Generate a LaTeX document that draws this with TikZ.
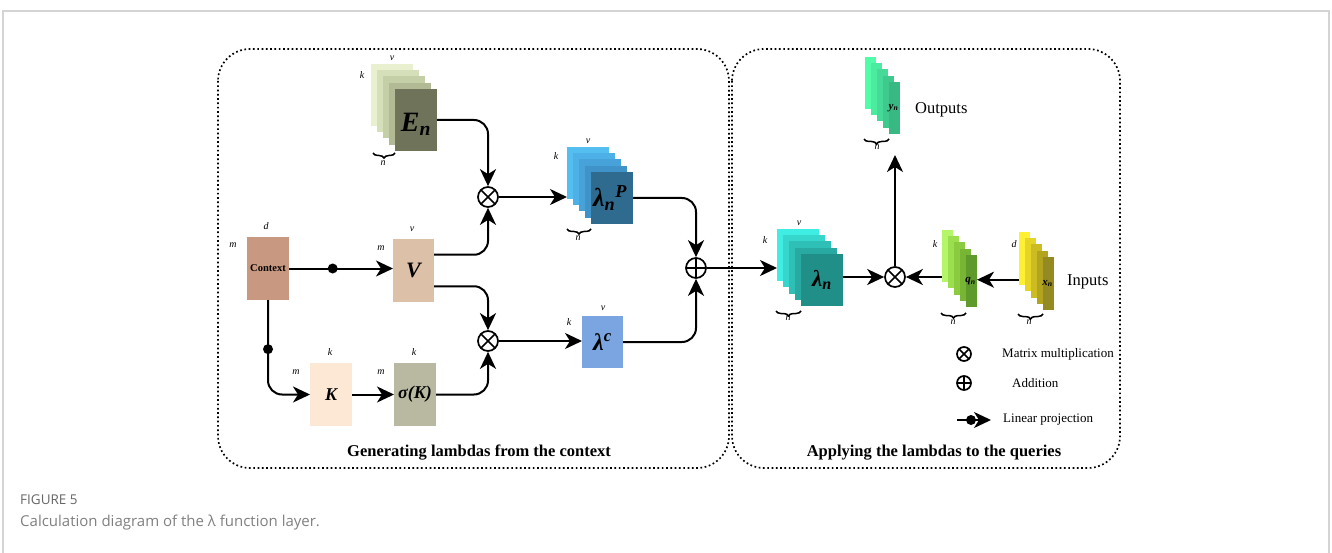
\documentclass[tikz,border=0pt]{standalone}
\usepackage{fontspec}
\setmainfont{Liberation Serif}
\newfontfamily\capfont{Open Sans}
\usetikzlibrary{arrows.meta,decorations.pathreplacing,calc}

% sheet colours, back to front
\definecolor{en0}{HTML}{E8F0D0}\definecolor{en1}{HTML}{D5DFB9}\definecolor{en2}{HTML}{C4CEA7}
\definecolor{en3}{HTML}{B1BA95}\definecolor{en4}{HTML}{6F735A}
\definecolor{lp0}{HTML}{55BEF0}\definecolor{lp1}{HTML}{4DB0E6}\definecolor{lp2}{HTML}{46A2D8}
\definecolor{lp3}{HTML}{3F93C8}\definecolor{lp4}{HTML}{2F6B8F}
\definecolor{ln0}{HTML}{40EDE3}\definecolor{ln1}{HTML}{36D6CD}\definecolor{ln2}{HTML}{2EC0B7}
\definecolor{ln3}{HTML}{28AAA2}\definecolor{ln4}{HTML}{1F8F87}
\definecolor{yn0}{HTML}{52FDAA}\definecolor{yn1}{HTML}{4BEBA0}\definecolor{yn2}{HTML}{45DA97}
\definecolor{yn3}{HTML}{3EC98D}\definecolor{yn4}{HTML}{38B883}
\definecolor{qn0}{HTML}{B4F56A}\definecolor{qn1}{HTML}{9CDF4E}\definecolor{qn2}{HTML}{8ACB40}
\definecolor{qn3}{HTML}{79B535}\definecolor{qn4}{HTML}{5F9B2B}
\definecolor{xn0}{HTML}{FFF033}\definecolor{xn1}{HTML}{E6D526}\definecolor{xn2}{HTML}{CCBC22}
\definecolor{xn3}{HTML}{B3A420}\definecolor{xn4}{HTML}{958A22}
\definecolor{ctxc}{HTML}{C99880}
\definecolor{vc}{HTML}{DDC0A8}
\definecolor{kc}{HTML}{FDE8D6}
\definecolor{skc}{HTML}{B8B9A0}
\definecolor{lcc}{HTML}{7BA5E0}
\definecolor{framec}{HTML}{D4D4D4}
\definecolor{capa}{HTML}{666666}
\definecolor{capb}{HTML}{808080}

% five offset sheets: name, x, y (top-left of the back sheet), width, height, colour prefix
\newcommand\sheetstack[6]{%
  \foreach \i in {0,...,4}{%
    \node[sheet, minimum width=#4pt, minimum height=#5pt, fill=#6\i]
      (#1\i) at ({#2+6*\i},{#3+6.25*\i}) {};}}

\begin{document}
\begin{tikzpicture}[x=1pt,y=-1pt,
  sheet/.style={rectangle, anchor=north west, inner sep=0pt, outer sep=0pt},
  box/.style={rectangle, anchor=north west, inner sep=0pt, outer sep=0pt},
  conn/.style={line width=2pt, rounded corners=14pt},
  arr/.style={-{Stealth[length=17pt,width=16pt,inset=5pt]}},
  dotn/.style={circle, fill=black, inner sep=0pt, minimum size=10pt},
  dim/.style={font=\fontsize{10}{10}\selectfont\itshape, inner sep=0pt},
  big/.style={font=\fontsize{#1}{#1}\selectfont\bfseries\itshape, inner sep=0pt},
  tiny/.style={font=\fontsize{11}{11}\selectfont\bfseries\itshape, inner sep=0pt},
  brace/.style={decorate, decoration={brace, mirror, amplitude=5pt}, line width=1.5pt},
  panel/.style={draw, line width=1.7pt, dash pattern=on 1.7pt off 2.6pt, rounded corners=32pt},
  ptitle/.style={font=\fontsize{16.5}{16.5}\selectfont\bfseries, inner sep=0pt},
  legend/.style={font=\fontsize{13}{13}\selectfont, anchor=west, inner sep=0pt},
  side/.style={font=\fontsize{16.5}{16.5}\selectfont, anchor=west, inner sep=0pt},
  otimes/.style={circle, draw, line width=1.7pt, minimum size=#1, inner sep=0pt,
    path picture={\draw[line width=1.7pt]
      (path picture bounding box.north west) -- (path picture bounding box.south east)
      (path picture bounding box.north east) -- (path picture bounding box.south west);}},
  oplus/.style={circle, draw, line width=1.7pt, minimum size=#1, inner sep=0pt,
    path picture={\draw[line width=1.7pt]
      (path picture bounding box.north) -- (path picture bounding box.south)
      (path picture bounding box.east) -- (path picture bounding box.west);}}
]
\useasboundingbox (0,0) rectangle (1332,553);

% page frame
\draw[framec, line width=1.2pt] (3,553) -- (3,11) -- (1329,11) -- (1329,553);

% the two panels
\draw[panel] (218,49) rectangle (729,468);
\draw[panel] (732,49) rectangle (1120,468);
\node[ptitle] (t1) at (479,453) {Generating lambdas from the context};
\node[ptitle] (t2) at (934,453) {Applying the lambdas to the queries};

% ---------- left panel ----------
\sheetstack{en}{371}{64}{42}{62}{en}
\node[big=28] (enl) at ($(en4.center)+(0,4)$) {E\textsubscript{n}};
\node[dim] (enk) at (362,75) {k};
\node[dim] (env) at (392,58) {v};
\draw[brace] (373,153) -- (395,153);
\node[dim] (enn) at (383,163) {n};

\sheetstack{lp}{567}{147}{42}{52}{lp}
\node[big=26, text=black] (lpl) at ($(lp4.center)+(-2,0)$) {λ\textsubscript{n}\textsuperscript{P}};
\node[dim] (lpk) at (556,156) {k};
\node[dim] (lpv) at (588,141) {v};
\draw[brace] (567,229) -- (591,229);
\node[dim] (lpn) at (578,238) {n};

\node[box, fill=ctxc, minimum width=42pt, minimum height=63pt] (ctx) at (247,237) {};
\node[font=\fontsize{10.5}{10.5}\selectfont\bfseries, inner sep=0pt] (ctxl) at (ctx.center) {Context};
\node[dim] (ctxd) at (266,226) {d};
\node[dim] (ctxm) at (233,245) {m};

\node[box, fill=vc, minimum width=41pt, minimum height=63pt] (V) at (393,239) {};
\node[big=22] (Vl) at (V.center) {V};
\node[dim] (Vv) at (412,229) {v};
\node[dim] (Vm) at (381,248) {m};

\node[box, fill=kc, minimum width=42pt, minimum height=63pt] (K) at (310,363) {};
\node[big=18] (Kl) at (K.center) {K};
\node[dim] (Kk) at (330,352) {k};
\node[dim] (Km) at (296,372) {m};

\node[box, fill=skc, minimum width=42pt, minimum height=63pt] (sK) at (394,363) {};
\node[big=18] (sKl) at (sK.center) {σ(K)};
\node[dim] (sKk) at (414,352) {k};
\node[dim] (sKm) at (381,372) {m};

\node[box, fill=lcc, minimum width=41pt, minimum height=52pt] (lc) at (582,316) {};
\node[big=24] (lcl) at (lc.center) {λ\textsuperscript{c}};
\node[dim] (lcv) at (603,308) {v};
\node[dim] (lck) at (569,322) {k};

\node[otimes=20pt] (ot1) at (488,197) {};
\node[otimes=20pt] (ot2) at (488,341) {};
\node[oplus=20pt] (op) at (696,268) {};

% connectors of the left panel
\draw[conn, arr] (en4.east) -| (ot1.north);
\draw[conn, arr] ($(V.north east)!0.25!(V.south east)$) -| (ot1.south);
\draw[conn, arr] ($(V.north east)!0.75!(V.south east)$) -| (ot2.north);
\draw[conn, arr] (sK.east) -| (ot2.south);
\draw[conn, arr] (ot1.east) -- (ot1.east -| lp0.west);
\draw[conn, arr] (ot2.east) -- (ot2.east -| lc.west);
\draw[conn, arr] (lp4.east) -| (op.north);
\draw[conn, arr] (lc.east) -| (op.south);
\draw[conn, arr] (ctx.east) -- (ctx.east -| V.west);
\node[dotn] (d1) at ($(ctx.east)!0.42!(ctx.east -| V.west)$) {};
\draw[conn, arr] (ctx.south) |- (K.west);
\node[dotn] (d2) at ($(ctx.south)!0.52!(ctx.south |- K.west)$) {};
\draw[conn, arr] (K.east) -- (sK.west);

% ---------- right panel ----------
\sheetstack{ln}{777}{229}{42}{52}{ln}
\node[big=23] (lnl) at (ln4.center) {λ\textsubscript{n}};
\node[dim] (lnk) at (765,240) {k};
\node[dim] (lnv) at (799,223) {v};
\draw[brace] (776,311) -- (801,311);
\node[dim] (lnn) at (788,318) {n};

\sheetstack{yn}{865}{57}{11}{52}{yn}
\node[tiny] (ynl) at ($(yn4.center)+(-1,0)$) {y\textsubscript{n}};
\draw[brace] (864,139) -- (889,139);
\node[dim] (ynn) at (877,147) {n};
\node[side] (outl) at (915,110) {Outputs};

\sheetstack{qn}{942}{230}{11}{52}{qn}
\node[tiny] (qnl) at ($(qn4.center)+(-1,0)$) {q\textsubscript{n}};
\node[dim] (qnk) at (935,244) {k};
\draw[brace] (941,313) -- (966,313);
\node[dim] (qnn) at (953,322) {n};

\sheetstack{xn}{1019}{232}{11}{53}{xn}
\node[tiny] (xnl) at ($(xn4.center)+(-1,0)$) {x\textsubscript{n}};
\node[dim] (xnd) at (1014,244) {d};
\draw[brace] (1018,314) -- (1043,314);
\node[dim] (xnn) at (1029,322) {n};
\node[side] (inl) at (1067,282) {Inputs};

\node[otimes=20pt] (ot3) at (895,277) {};
\coordinate (ytip) at (895,155);

% connectors of the right panel
\draw[conn, arr] (op.east) -- (op.east -| ln0.west);
\draw[conn, arr] (ot3.west -| ln4.east) -- (ot3.west);
\draw[conn, arr] (ot3.north) -- (ytip);
\draw[conn, arr] (ot3.east -| qn0.west) -- (ot3.east);
\coordinate (xsrc) at ($(xn0.south west)!0.1!(xn0.north west)$);
\draw[conn, arr] (xsrc) -- (xsrc -| qn4.east);

% legend
\node[otimes=14pt] (lg1) at (964,354) {};
\node[legend] (lg1t) at (1002,354) {Matrix multiplication};
\node[oplus=14pt] (lg2) at (964,383) {};
\node[legend] (lg2t) at (1012,383) {Addition};
\coordinate (lgA) at (957,420);
\coordinate (lgB) at (991,420);
\draw[conn, arr] (lgA) -- (lgB);
\node[dotn] (lgd) at (971,420) {};
\node[legend] (lg3t) at (1003,420) {Linear projection};

% caption
\node[anchor=west, inner sep=0pt, text=capa, font=\capfont\fontsize{13.5}{13.5}\selectfont] (fig) at (20,500) {FIGURE 5};
\node[anchor=west, inner sep=0pt, text=capb, font=\capfont\fontsize{15}{15}\selectfont] (cap) at (20,523) {Calculation diagram of the λ function layer.};
\end{tikzpicture}
\end{document}
